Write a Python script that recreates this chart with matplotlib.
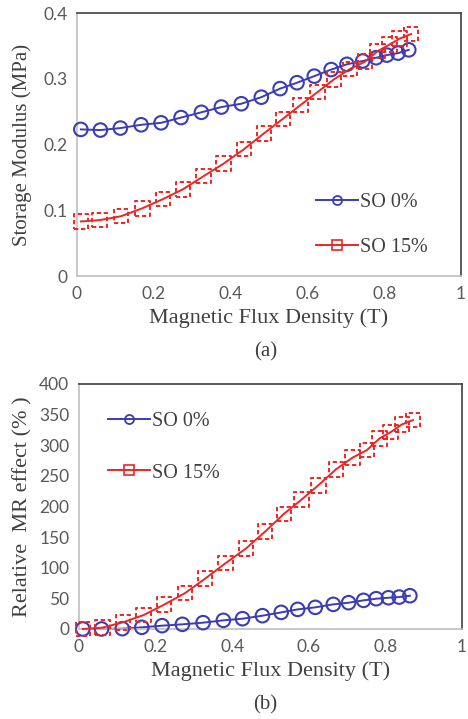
import matplotlib
matplotlib.use("Agg")
import matplotlib.pyplot as plt
from matplotlib.lines import Line2D

# (a) storage modulus
b_so0 = [0.010, 0.061, 0.113, 0.167, 0.219, 0.271, 0.324, 0.376, 0.428, 0.480,
         0.529, 0.573, 0.618, 0.662, 0.703, 0.744, 0.779, 0.807, 0.836, 0.864]
g_so0 = [0.223, 0.222, 0.225, 0.230, 0.233, 0.241, 0.249, 0.257, 0.262, 0.272,
         0.285, 0.294, 0.304, 0.314, 0.322, 0.327, 0.332, 0.336, 0.339, 0.344]
b_so15 = [0.010, 0.059, 0.115, 0.170, 0.224, 0.276, 0.330, 0.382, 0.435, 0.487,
          0.536, 0.582, 0.627, 0.669, 0.711, 0.750, 0.783, 0.814, 0.840, 0.870]
g_so15 = [0.083, 0.085, 0.091, 0.103, 0.117, 0.132, 0.152, 0.171, 0.193, 0.217,
          0.239, 0.260, 0.280, 0.299, 0.315, 0.326, 0.342, 0.352, 0.361, 0.368]

# (b) relative MR effect
mr_so0 = [0.0, 0.0, 0.5, 2.7, 5.4, 7.6, 10.3, 14.1, 16.8, 21.7,
          27.1, 32.0, 35.3, 40.2, 42.9, 46.7, 49.4, 51.0, 52.1, 54.3]
mr_so15 = [0.0, 2.2, 10.9, 22.8, 39.6, 58.6, 82.0, 107.5, 131.4, 159.0,
           187.9, 211.2, 234.6, 260.6, 279.6, 292.1, 311.1, 321.4, 333.9, 341.0]
b_mr0 = [0.010, 0.059, 0.113, 0.164, 0.217, 0.270, 0.324, 0.377, 0.427, 0.479,
         0.528, 0.571, 0.617, 0.664, 0.704, 0.743, 0.776, 0.808, 0.836, 0.864]
b_mr15 = [0.010, 0.061, 0.115, 0.169, 0.222, 0.277, 0.329, 0.383, 0.436, 0.486,
          0.535, 0.581, 0.625, 0.671, 0.714, 0.752, 0.785, 0.814, 0.843, 0.872]

labels = ["SO 0%", "SO 15%"]
blue = "#3a3db5"
red = "#ec2626"
txt = "#404040"
serif = "Liberation Serif"

fig = plt.figure(figsize=(4.68, 7.19), dpi=100)
ax1 = fig.add_axes([0.1645, 0.6161, 0.8205, 0.3658])
ax2 = fig.add_axes([0.1688, 0.1252, 0.8183, 0.3408])


def draw(ax, x0, y0, x1, y1):
    ax.plot(x0, y0, color=blue, lw=1.4, zorder=2, clip_on=False)
    ax.scatter(x0, y0, s=95, facecolors="none", edgecolors=blue, linewidths=1.5,
               zorder=3, clip_on=False)
    ax.plot(x1, y1, color=red, lw=1.4, zorder=4, clip_on=False)
    ax.scatter(x1, y1, s=110, marker="s", facecolors="none", edgecolors=red,
               linewidths=1.4, linestyle=(0, (2.2, 1.4)), zorder=5, clip_on=False)
    ax.set_xlim(0, 1)
    ax.set_xticks([0, 0.2, 0.4, 0.6, 0.8, 1])
    ax.set_xticklabels(["0", "0.2", "0.4", "0.6", "0.8", "1"])
    ax.tick_params(length=0, labelsize=12.5, labelcolor="#595959", pad=7)
    for s in ["left", "bottom"]:
        ax.spines[s].set_color("#bfbfbf")
        ax.spines[s].set_linewidth(1.2)
    for s in ["top", "right"]:
        ax.spines[s].set_color("#404040")
        ax.spines[s].set_linewidth(1.2)
    ax.set_xlabel("Magnetic Flux Density (T)", family=serif, fontsize=16, color=txt, labelpad=5)
    handles = [
        Line2D([], [], color=blue, lw=1.4, marker="o", ms=6.5, mfc="none", mew=1.3),
        Line2D([], [], color=red, lw=1.4, marker="s", ms=6.5, mfc="none", mew=1.2),
    ]
    return handles


h = draw(ax1, b_so0, g_so0, b_so15, g_so15)
ax1.set_ylim(0, 0.4)
ax1.set_yticks([0, 0.1, 0.2, 0.3, 0.4])
ax1.set_yticklabels(["0", "0.1", "0.2", "0.3", "0.4"])
for lab in ax1.get_xticklabels() + ax1.get_yticklabels():
    lab.set_family("Lato")
ax1.set_ylabel("Storage Modulus (MPa)", family=serif, fontsize=15, color=txt, labelpad=8)
ax1.legend(h, labels, loc="upper left", bbox_to_anchor=(0.622, 0.316), frameon=False,
           prop={"family": serif, "size": 14.5}, handlelength=2.1, handletextpad=0.1,
           labelspacing=1.3, borderpad=0, borderaxespad=0, labelcolor=txt)
fig.text(0.567, 0.511, "(a)", family=serif, fontsize=15, color=txt, ha="center", va="center")

h = draw(ax2, b_mr0, mr_so0, b_mr15, mr_so15)
ax2.set_ylim(0, 400)
ax2.set_yticks(range(0, 401, 50))
for lab in ax2.get_xticklabels() + ax2.get_yticklabels():
    lab.set_family("Lato")
ax2.set_ylabel("Relative  MR effect (% )", family=serif, fontsize=16, color=txt, labelpad=5)
ax2.legend(h, labels, loc="upper left", bbox_to_anchor=(0.075, 0.885), frameon=False,
           prop={"family": serif, "size": 14.5}, handlelength=2.1, handletextpad=0.1,
           labelspacing=1.6, borderpad=0, borderaxespad=0, labelcolor=txt)
fig.text(0.567, 0.020, "(b)", family=serif, fontsize=15, color=txt, ha="center", va="center")

fig.savefig("out.png", dpi=100)
